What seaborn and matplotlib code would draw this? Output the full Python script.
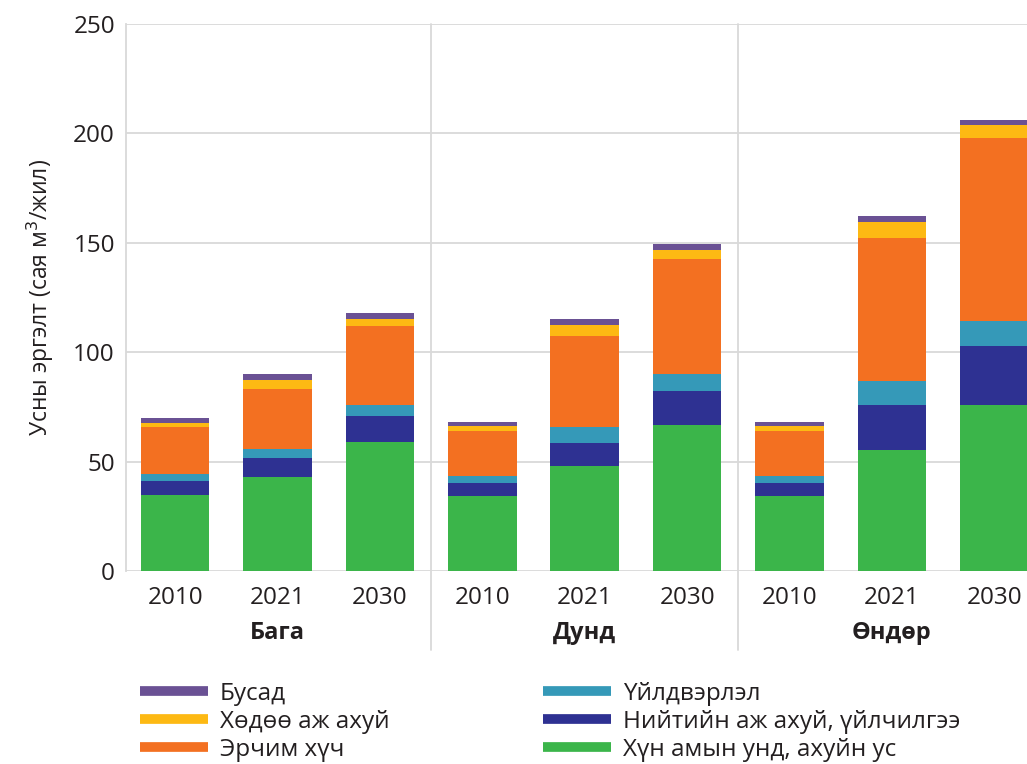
import seaborn as sns
import matplotlib.pyplot as plt
import pandas as pd
import numpy as np
from matplotlib.lines import Line2D
from matplotlib.transforms import blended_transform_factory

# Өгөгдөл (сая м3/жил)
scenarios = ['Бага', 'Дунд', 'Өндөр']
years = ['2010', '2021', '2030']
sectors = ['Хүн амын унд, ахуйн ус', 'Нийтийн аж ахуй, үйлчилгээ', 'Үйлдвэрлэл',
           'Эрчим хүч', 'Хөдөө аж ахуй', 'Бусад']
colors = ['#3bb54a', '#2e3192', '#3599b8', '#f37021', '#fdb913', '#6a5194']

household = [34.7, 43.0, 59.0, 34.3, 48.0, 66.7, 34.3, 55.3, 75.9]
utilities = [6.4, 8.8, 11.8, 5.9, 10.5, 15.6, 6.1, 20.6, 26.9]
industry = [3.4, 4.0, 5.1, 3.4, 7.3, 7.9, 3.0, 10.9, 11.3]
energy = [21.5, 27.4, 36.2, 20.4, 41.6, 52.4, 20.7, 65.4, 83.8]
agriculture = [1.6, 4.1, 3.1, 2.3, 5.0, 4.1, 2.3, 7.3, 5.8]
other = [2.3, 2.7, 2.7, 1.8, 2.8, 2.8, 1.8, 2.7, 2.4]

series = [household, utilities, industry, energy, agriculture, other]

labels = [f'{s} {y}' for s in scenarios for y in years]
df = pd.DataFrame({'label': labels})
cum = np.zeros(len(labels))
for name, vals in zip(sectors, series):
    cum = cum + np.array(vals)
    df[name] = cum

sns.set_theme(style='whitegrid')
plt.rcParams['font.family'] = ['Open Sans', 'DejaVu Sans']
text_color = '#231f20'

fig = plt.figure(figsize=(10.27, 7.64), dpi=100)
ax = fig.add_axes([126 / 1027, 1 - 571 / 764, 1 - 126 / 1027, 547 / 764])

# Давхарласан багана: дээрээс нь доош зурна
for name, col in reversed(list(zip(sectors, colors))):
    sns.barplot(data=df, x='label', y=name, order=labels, color=col,
                width=0.67, saturation=1, ax=ax, linewidth=0)

ax.set_xlim(-0.48, 8.32)
ax.set_ylim(0, 250)
ax.set_yticks([0, 50, 100, 150, 200, 250])
ax.set_xticks(range(len(labels)))
ax.set_xticklabels(years * 3)
ax.tick_params(axis='both', labelsize=17.5, colors=text_color, length=0)
ax.tick_params(axis='x', pad=11)
ax.tick_params(axis='y', pad=8)
ax.set_xlabel('')
ax.set_ylabel('Усны эргэлт (сая м$^3$/жил)', fontsize=16.5, color=text_color, labelpad=12)

ax.grid(axis='x', visible=False)
ax.grid(axis='y', color='#d9d9d9', linewidth=1.3)
for side in ['top', 'right', 'bottom']:
    ax.spines[side].set_visible(False)
ax.spines['left'].set_color('#d9d9d9')
ax.spines['left'].set_linewidth(1.3)
ax.set_axisbelow(True)

trans = blended_transform_factory(ax.transData, ax.transAxes)
for xs in [2.5, 5.5]:
    ax.plot([xs, xs], [-0.145, 1.0], transform=trans, color='#d9d9d9',
            linewidth=1.3, clip_on=False)
for i, s in enumerate(scenarios):
    ax.text(1 + 3 * i, -0.114, s, transform=trans, ha='center', va='center',
            fontsize=17, fontweight='bold', color=text_color)

legend_order = ['Бусад', 'Хөдөө аж ахуй', 'Эрчим хүч',
                'Үйлдвэрлэл', 'Нийтийн аж ахуй, үйлчилгээ', 'Хүн амын унд, ахуйн ус']
color_map = dict(zip(sectors, colors))
handles = [Line2D([0], [0], color=color_map[n], linewidth=7, solid_capstyle='butt')
           for n in legend_order]
fig.legend(handles, legend_order, loc='upper left', bbox_to_anchor=(118 / 1027, 1 - 660 / 764),
           ncol=2, frameon=False, fontsize=17.5, handlelength=2.8, handletextpad=0.5,
           labelspacing=0.16, columnspacing=6.3, labelcolor=text_color)

fig.savefig('out.png', dpi=100)
